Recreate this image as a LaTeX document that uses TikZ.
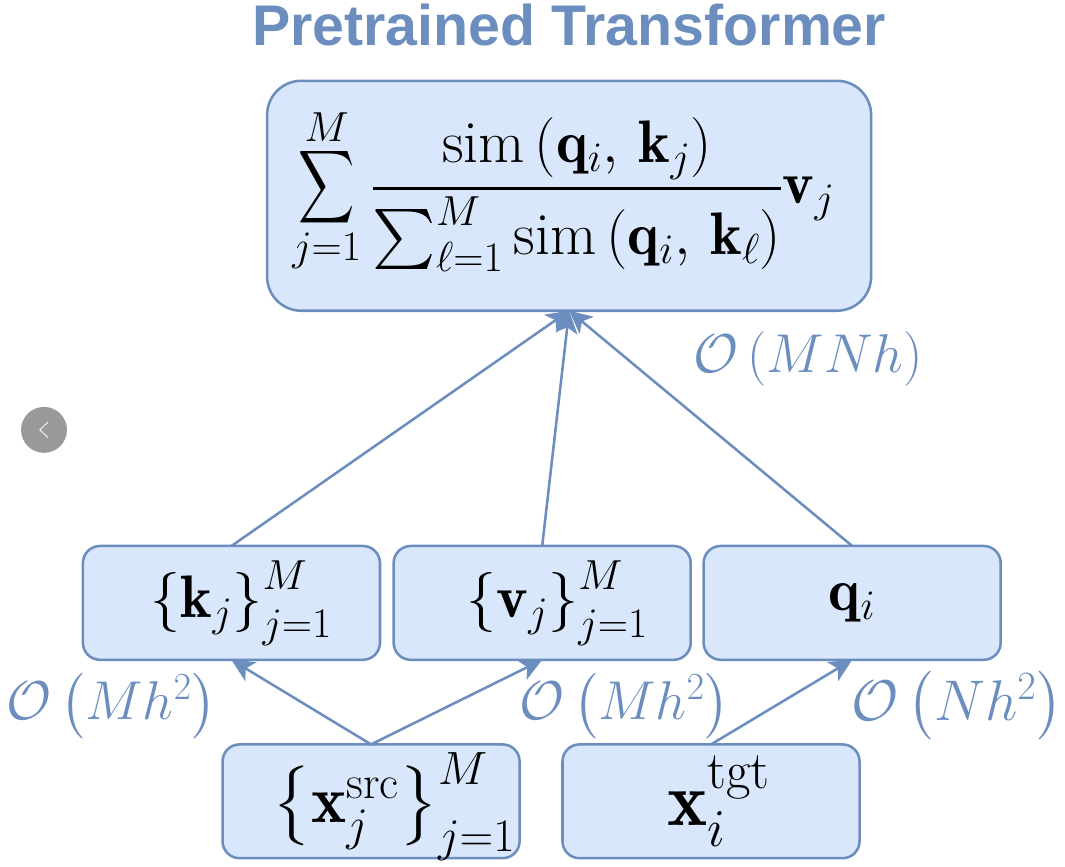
\documentclass[tikz,border=0pt]{standalone}
\usepackage{fix-cm}
\usepackage{amsmath,amssymb,graphicx}
\usepackage{fontspec}
\setsansfont{Liberation Sans}
\usetikzlibrary{arrows.meta}
\definecolor{dioBlue}{HTML}{6C8EBF}
\definecolor{dioFill}{HTML}{D8E7FB}
\newcommand{\SimTerm}[1]{\mathrm{sim}\left(\mathbf{q}_{i},\,\mathbf{k}_{#1}\right)}
\newcommand{\TallSum}{\mathop{\vcenter{\vskip-0.2cm\hbox{\scalebox{0.65}[0.85]{$\displaystyle\sum$}}\vskip-0.12cm}}\limits}
\begin{document}
\begin{tikzpicture}[
  font=\fontsize{45}{54}\selectfont,
  bx/.style={draw=dioBlue, line width=1.9pt, fill=dioFill, rounded corners=#1,
    inner sep=0pt, outer sep=0pt, align=center},
  bx/.default=0.45cm,
  small/.style={bx, minimum width=7.83cm, minimum height=3cm},
  cost/.style={text=dioBlue, inner sep=0pt, font=\fontsize{41}{50}\selectfont},
  ar/.style={draw=dioBlue, line width=1.9pt, -{Stealth[length=0.6cm,width=0.58cm,inset=0.16cm]}},
]
\useasboundingbox (0,0) rectangle (28.07,22.85);
\node[font=\fontsize{43}{50}\sffamily\bfseries, text=dioBlue, inner sep=0pt] (title) at (15,22.2) {Pretrained Transformer};
\node[bx=0.9cm, minimum width=15.92cm, minimum height=6.06cm] (m) at (15,17.69)
  {\raisebox{0.13cm}[\height][\depth]{$\displaystyle\TallSum_{j=1}^{M}\frac{\SimTerm{j}}{\sum_{\ell=1}^{M}\SimTerm{\ell}}\mathbf{v}_{j}$}\hspace{0.3cm}};
\node[small] (k) at (6.1,6.96) {\hspace{0.53cm}$\left\{\mathbf{k}_{j}\right\}_{j=1}^{M}$};
\node[small] (v) at (14.29,6.96) {\hspace{0.8cm}$\left\{\mathbf{v}_{j}\right\}_{j=1}^{M}$};
\node[small] (q) at (22.46,6.96) {$\mathbf{q}_{i}$};
\node[small, font=\fontsize{50}{60}\selectfont] (src) at (9.78,1.73) {\hspace{1.2cm}\raisebox{-0.14cm}[\height][\depth]{$\left\{\mathbf{x}_{j}^{\mathrm{src}}\right\}_{j=1}^{M}$}};
\node[small, font=\fontsize{57}{68}\selectfont] (tgt) at (18.74,1.73) {\hspace{0.4cm}$\mathbf{x}_{i}^{\mathrm{tgt}}$};
\draw[ar] (k.north) -- (m.south);
\draw[ar] (v.north) -- (m.south);
\draw[ar] (q.north) -- (m.south);
\draw[ar] (src.north) -- (k.south);
\draw[ar] (src.north) -- (v.south);
\draw[ar] (tgt.north) -- (q.south);
\node[cost] (cm) at (21.3,13.4) {$\mathcal{O}\left(MNh\right)$};
\node[cost] (c1) at (2.94,4.25) {$\mathcal{O}\left(Mh^{2}\right)$};
\node[cost] (c2) at (16.46,4.25) {$\mathcal{O}\left(Mh^{2}\right)$};
\node[cost, font=\fontsize{43}{52}\selectfont] (c3) at (25.22,4.25) {$\mathcal{O}\left(Nh^{2}\right)$};
% slide arrow
\node[circle, fill=black!40, minimum size=1.21cm, inner sep=0pt] (nav) at (1.16,11.52) {};
\draw[white, line width=0.6pt] ([shift={(0.11,0.21)}]nav.center) -- ([shift={(-0.11,0)}]nav.center) -- ([shift={(0.11,-0.21)}]nav.center);
\end{tikzpicture}
\end{document}
